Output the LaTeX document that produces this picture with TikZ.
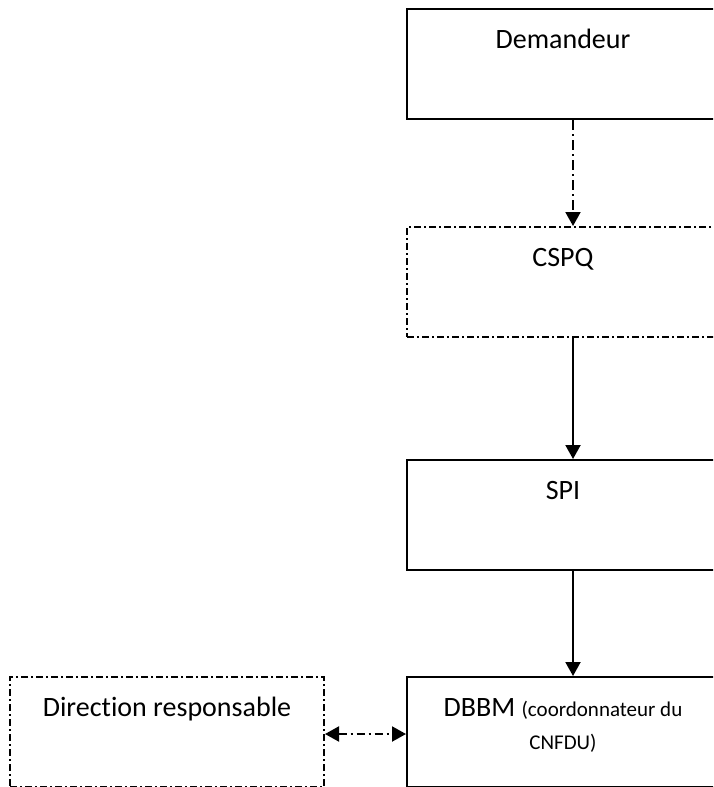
\documentclass[tikz,border=0pt]{standalone}
\usepackage{fontspec}
\setmainfont[Ligatures=NoCommon]{Carlito}
\usetikzlibrary{arrows.meta}

\begin{document}
\begin{tikzpicture}[x=1pt,y=-1pt,box/.style={
      draw=black,
      line width=2pt,
      rectangle,
      inner sep=0pt,
      minimum width=312pt,
      text height=39pt,
      text depth=71pt,
      align=center,
      font=\fontsize{28}{33}\selectfont
    }]
\tikzset{dashdot/.style = {dash pattern=on 7pt off 3pt on 2pt off 3pt}}
\tikzset{edge/.style = {line width=2pt,-{Triangle[length=14pt,width=15pt]}}}
\clip (0,0) rectangle (713,787);
\node[box] (dem) at (563,8) [anchor=north] {Demandeur};
\node[box,dashdot] (cspq) at (563,226) [anchor=north] {CSPQ};
\node[box] (spi) at (563,459) [anchor=north] {SPI};
\node[box,text height=72pt,text depth=38pt] (dbbm) at (563,676) [anchor=north] {DBBM {\fontsize{21}{33}\selectfont (coordonnateur du}\\{\fontsize{21}{33}\selectfont CNFDU)}};
\node[box,dashdot,minimum width=314pt] (dir) at (167,676) [anchor=north] {Direction responsable};
\draw[edge,dash pattern=on 10pt off 4pt on 2pt off 4pt] ([xshift=10pt]dem.south) -- ([xshift=10pt]cspq.north);
\draw[edge] ([xshift=10pt]cspq.south) -- ([xshift=10pt]spi.north);
\draw[edge] ([xshift=10pt]spi.south) -- ([xshift=10pt]dbbm.north);
\draw[edge,{Triangle[length=14pt,width=15pt]}-{Triangle[length=14pt,width=15pt]},dash pattern=on 8pt off 4pt on 2pt off 4pt] ([yshift=-2pt]dir.east) -- ([yshift=-2pt]dbbm.west);
\end{tikzpicture}
\end{document}
